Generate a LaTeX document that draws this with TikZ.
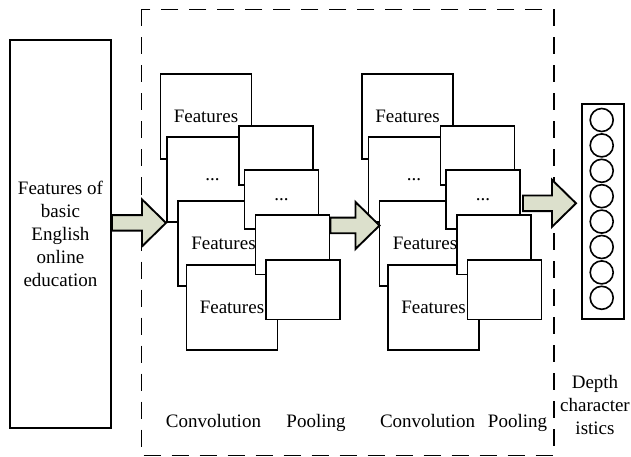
\documentclass[tikz,border=0pt]{standalone}
\usepackage{fontspec}
\setmainfont{Liberation Serif}
\usetikzlibrary{calc, positioning}

\definecolor{arrowgreen}{RGB}{220,224,204}

% block arrow from the x of #1 to the tip #2
\newcommand{\blockarrow}[2]{%
    \draw[arrowfill] let \p1=(#1), \p2=(#2) in
        (\x1,\y2+7.8bp) -- (\x2-24bp,\y2+7.8bp) -- (\x2-24bp,\y2+23.5bp) -- (\x2,\y2)
        -- (\x2-24bp,\y2-23.5bp) -- (\x2-24bp,\y2-7.8bp) -- (\x1,\y2-7.8bp) -- cycle;}

\begin{document}
\begin{tikzpicture}[x=1bp, y=-1bp,
    every node/.style={font=\fontsize{19bp}{23bp}\selectfont},
    box/.style={draw, line width=1.9bp, fill=white, inner sep=0pt, anchor=north west},
    convbox/.style={box, minimum width=91bp, minimum height=85bp},
    poolbox/.style={box, minimum width=74bp, minimum height=59bp},
    arrowfill/.style={draw, line width=1.9bp, fill=arrowgreen, line join=miter}]
    \useasboundingbox (0,0) rectangle (631,457);

    % 虚线框
    \draw[line width=1.7bp, dash pattern=on 17bp off 11bp] (141.5,9.5) rectangle (554,455.5);

    % 输入
    \node[box, minimum width=101bp, minimum height=388bp, align=center] (in) at (9,39)
        {Features of\\basic\\English\\online\\education};

    % 卷积 + 池化, 两组
    \foreach \g/\dx in {1/0, 2/201.5} {
        \node[convbox] (c\g a) at (159.5+\dx,72.7) {Features};
        \node[convbox] (c\g b) at (166+\dx,136) {...};
        \node[convbox] (c\g c) at (177+\dx,200) {Features};
        \node[convbox] (c\g d) at (185.5+\dx,264) {Features};
        \node[poolbox] (p\g a) at (238+\dx,125) {};
        \node[poolbox] (p\g b) at (243.5+\dx,169.5) {...};
        \node[poolbox] (p\g c) at (254.5+\dx,214.5) {};
        \node[poolbox] (p\g d) at (265+\dx,259.5) {};
    }

    % 深度特征
    \node[box, minimum width=42bp, minimum height=215bp] (vec) at (580.7,102.7) {};
    \foreach \i in {0,...,7} {
        \draw[line width=1.6bp] (601.7,{120+25.4*\i}) circle (11.5bp);
    }

    % 箭头
    \coordinate (t2) at (379.5,225.5);
    \coordinate (s3) at (523,203.3);
    \coordinate (t3) at (576,203.3);
    \blockarrow{in.east}{c1b.south west}
    \blockarrow{p1c.east}{t2}
    \blockarrow{s3}{t3}

    % 标注
    \node[anchor=base] (l1) at (213.5,427) {Convolution};
    \node[anchor=base] (l2) at (316,427) {Pooling};
    \node[anchor=base] (l3) at (427.5,427) {Convolution};
    \node[anchor=base] (l4) at (517.5,427) {Pooling};
    \node[align=center] (out) at (595,405) {Depth\\character\\istics};
\end{tikzpicture}
\end{document}
